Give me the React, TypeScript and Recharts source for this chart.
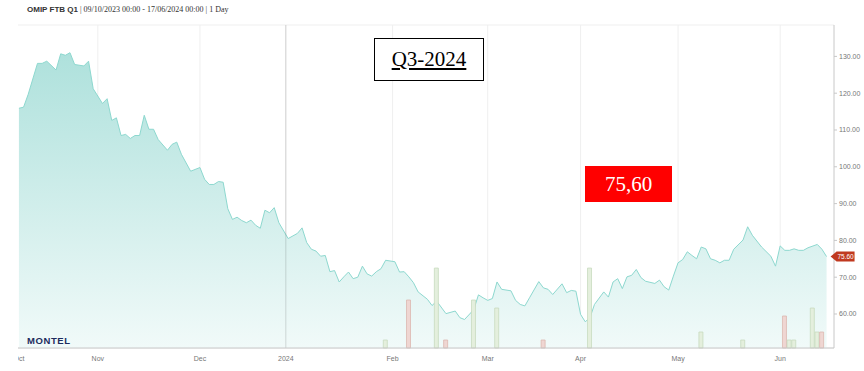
import { Area, Bar, CartesianGrid, Cell, ComposedChart, ReferenceDot, ReferenceLine, XAxis, YAxis } from "recharts"

// trading-day index (0 = 09/10/2023) and close price
const days = [
  0, 1, 2, 4, 5, 6, 8, 9, 10, 11, 12, 14, 15, 16, 18, 19, 20, 21, 22, 23, 24, 25, 26, 27, 28, 29, 30, 32, 33, 34, 35, 37, 39,
  40, 41, 42, 43, 44, 45, 46, 47, 48, 49, 50, 51, 52, 53, 54, 55, 56, 58, 60, 61, 62, 63, 64, 65, 66, 67, 68, 69, 70, 71, 72,
  73, 74, 75, 76, 77, 78, 79, 81, 82, 83, 84, 85, 86, 88, 89, 90, 92, 94, 95, 96, 98, 99, 100, 101, 102, 103, 104, 106, 107,
  108, 109, 110, 112, 113, 114, 115, 117, 118, 119, 120, 121, 122, 123, 124, 126, 127, 128, 129, 130, 131, 132, 133, 134, 135,
  137, 138, 139, 140, 141, 142, 143, 144, 145, 146, 147, 148, 149, 150, 151, 152, 153, 154, 156, 157, 158, 160, 162, 163, 164,
  165, 166, 167, 168, 169, 170, 172, 173, 174,
]
const prices = [
  115.9, 116.2, 119.7, 128.1, 128.1, 128.7, 126.3, 130.7, 130.3, 131.0, 127.8, 127.4, 128.7, 121.2, 117.2, 118.5, 112.6, 113.3,
  108.5, 108.8, 107.7, 108.5, 108.5, 114.0, 110.2, 110.2, 107.4, 104.5, 106.1, 106.7, 103.4, 98.8, 99.8,
  96.6, 95.2, 95.2, 96.0, 95.8, 88.6, 85.7, 86.3, 85.4, 84.8, 85.5, 84.1, 83.3, 88.2, 87.5, 88.9, 84.8, 80.5, 81.9, 83.4, 79.4,
  77.6, 77.1, 75.7, 75.9, 71.5, 71.8, 68.7, 70.1, 71.4, 69.6,
  70.0, 73.0, 70.9, 70.3, 71.5, 72.3, 74.6, 74.2, 71.4, 71.5, 70.1, 68.5, 66.0, 64.0, 62.3, 63.5, 60.1, 60.8, 59.0, 58.5, 61.2,
  65.2, 64.4, 63.7, 64.2, 68.7, 66.7, 66.3, 63.7,
  62.6, 62.2, 64.4, 68.8, 67.1, 66.7, 65.3, 68.2, 65.8, 66.4, 66.2, 59.9, 57.9, 58.9, 62.6, 66.0, 64.6, 68.7, 69.6, 66.9, 70.1,
  70.5, 72.1, 69.9, 68.9,
  68.3, 69.2, 67.4, 66.5, 70.3, 73.9, 74.8, 76.9, 75.9, 75.0, 78.2, 77.7, 75.0, 74.6, 73.9, 74.6, 74.6, 77.6, 80.1, 83.7, 81.4,
  78.2, 75.7, 73.0, 78.5,
  77.3, 77.3, 77.7, 77.3, 77.3, 78.0, 78.9, 77.6, 75.6,
]

// volume bars (green = up, red = down)
const volDays = [79, 84, 90, 92, 98, 103, 113, 123, 147, 156, 165, 166, 167, 171, 172, 173]
const volumes = [1, 6, 10, 1, 6, 5, 1, 10, 2, 1, 4, 1, 1, 5, 2, 2]
const volSides = ["up", "down", "up", "down", "up", "up", "down", "up", "up", "up", "down", "up", "up", "up", "up", "down"]

const monthTicks = [-0.2, 17, 39, 57.5, 80.5, 101, 121, 142, 164]
const monthLabels = ["Oct", "Nov", "Dec", "2024", "Feb", "Mar", "Apr", "May", "Jun"]
const yearStart = 57.5
const priceTicks = [60, 70, 80, 90, 100, 110, 120, 130]

const rowMap = new Map<number, any>()
days.forEach((d, i) => rowMap.set(d, { x: d, price: prices[i] }))
volDays.forEach((d, i) => {
  const row = rowMap.get(d) ?? { x: d }
  row.vol = volumes[i]
  row.side = volSides[i]
  rowMap.set(d, row)
})
const data = [...rowMap.values()].sort((a, b) => a.x - b.x)

const lastDay = days[days.length - 1]
const lastPrice = prices[prices.length - 1]

const MonthTick = (props: any) => {
  const { x, y, payload, index } = props
  const label = monthLabels[monthTicks.indexOf(payload.value)] ?? ""
  const ty = y + 5
  if (index === 0) {
    // first label sits on the left edge and is cut off there
    return (
      <svg x={x} y={y - 5} width={40} height={20} overflow="hidden">
        <text x={1} y={10} textAnchor="middle" fontSize={7} fill="#777" fontFamily="Liberation Sans, Arial">
          {label}
        </text>
      </svg>
    )
  }
  return (
    <text x={x} y={ty} textAnchor="middle" fontSize={7} fill="#777" fontFamily="Liberation Sans, Arial">
      {label}
    </text>
  )
}

const LastPriceTag = (props: any) => {
  const { cx, cy } = props
  const x0 = cx + 4
  return (
    <g>
      <path d={`M${x0},${cy} L${x0 + 6},${cy - 5} L${x0 + 24},${cy - 5} L${x0 + 24},${cy + 5} L${x0 + 6},${cy + 5} Z`} fill="#c0391f" />
      <text x={x0 + 15} y={cy + 2.5} textAnchor="middle" fontSize={6.5} fill="#fff" fontFamily="Liberation Sans, Arial">
        {lastPrice.toFixed(2)}
      </text>
    </g>
  )
}

export default function App() {
  return (
    <div style={{ position: "absolute", left: 0, top: 0, width: 864, height: 371, background: "#fff" }}>
      <ComposedChart width={864} height={371} data={data} margin={{ top: 25, right: 0, left: 18, bottom: 0 }}>
        <defs>
          <linearGradient id="areaFill" x1="0" y1="0" x2="0" y2="1">
            <stop offset="0%" stopColor="#aee1dc" />
            <stop offset="100%" stopColor="#f1faf9" />
          </linearGradient>
        </defs>
        <CartesianGrid stroke="#efefef" verticalValues={monthTicks.slice(1)} />
        <XAxis
          dataKey="x"
          type="number"
          domain={[-0.2, 175.6]}
          allowDataOverflow
          ticks={monthTicks}
          tick={<MonthTick />}
          height={23}
          axisLine={{ stroke: "#c8c8c8" }}
          tickLine={false}
          interval={0}
        />
        <YAxis
          yAxisId="price"
          orientation="right"
          domain={[50.76, 138.53]}
          allowDataOverflow
          ticks={priceTicks}
          tickFormatter={(v) => v.toFixed(2)}
          tick={{ fontSize: 7, fill: "#777", fontFamily: "Liberation Sans, Arial" }}
          tickSize={3}
          axisLine={{ stroke: "#c8c8c8" }}
          tickLine={{ stroke: "#c8c8c8" }}
          width={30}
        />
        <YAxis yAxisId="vol" hide domain={[0, 40.4]} />
        <Area
          yAxisId="price"
          type="linear"
          dataKey="price"
          stroke="#8dd8cf"
          strokeWidth={1}
          fill="url(#areaFill)"
          fillOpacity={1}
          connectNulls
          isAnimationActive={false}
          dot={false}
          activeDot={false}
        />
        <ReferenceLine x={yearStart} yAxisId="price" stroke="#000" strokeOpacity={0.14} />
        <Bar yAxisId="vol" dataKey="vol" barSize={4} isAnimationActive={false}>
          {data.map((d, i) => (
            <Cell
              key={i}
              fill={d.side === "down" ? "#efd6d2" : "#e4efdd"}
              stroke={d.side === "down" ? "#dcb7b0" : "#c8dbbf"}
              strokeWidth={0.8}
            />
          ))}
        </Bar>
        <ReferenceDot yAxisId="price" x={lastDay} y={lastPrice} shape={<LastPriceTag />} />
      </ComposedChart>

      <div style={{ position: "absolute", left: 27, top: 5, fontSize: 8, color: "#333", whiteSpace: "nowrap" }}>
        <span style={{ fontFamily: "Liberation Sans, Arial", fontWeight: "bold" }}>OMIP FTB Q1</span>
        <span style={{ fontFamily: "Liberation Serif, serif" }}> | 09/10/2023 00:00 - 17/06/2024 00:00 | 1 Day</span>
      </div>

      <div
        style={{
          position: "absolute",
          left: 374,
          top: 38,
          width: 108,
          height: 41,
          border: "1px solid #000",
          background: "#fff",
          display: "flex",
          alignItems: "center",
          justifyContent: "center",
          fontFamily: "Liberation Serif, serif",
          fontSize: 21,
          textDecoration: "underline",
          color: "#000",
        }}
      >
        Q3-2024
      </div>

      <div
        style={{
          position: "absolute",
          left: 585,
          top: 166,
          width: 87,
          height: 36,
          background: "#ff0000",
          display: "flex",
          alignItems: "center",
          justifyContent: "center",
          fontFamily: "Liberation Serif, serif",
          fontSize: 21,
          color: "#fff",
        }}
      >
        75,60
      </div>

      <div
        style={{
          position: "absolute",
          left: 27,
          top: 335,
          fontFamily: "Liberation Sans, Arial",
          fontWeight: "bold",
          fontSize: 9.5,
          letterSpacing: 0.6,
          color: "#1d2c5e",
        }}
      >
        MONTEL
      </div>
    </div>
  )
}
